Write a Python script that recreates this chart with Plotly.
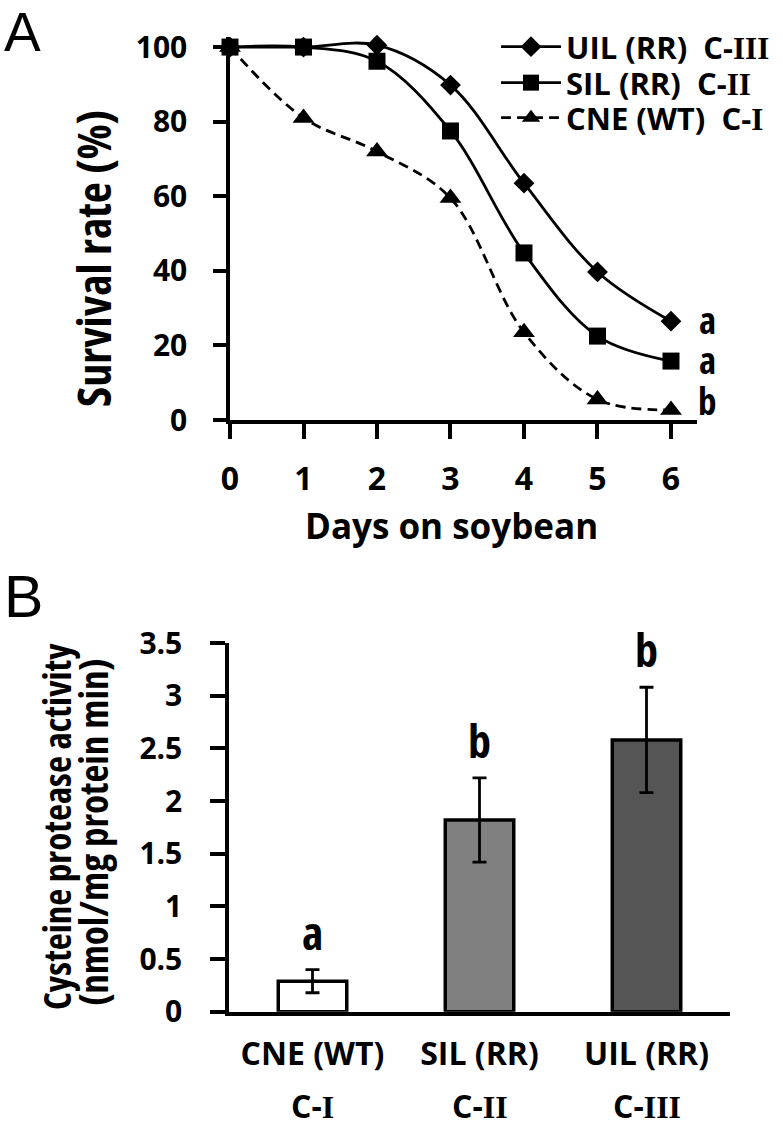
import plotly.graph_objects as go

# ---------------- data ----------------
days = [0, 1, 2, 3, 4, 5, 6]
uil_survival = [100, 100, 100.5, 89.8, 63.5, 39.7, 26.5]
sil_survival = [100, 100, 96.2, 77.5, 44.8, 22.5, 15.8]
cne_survival = [100, 81, 72, 59.5, 23.5, 5.5, 2.7]
survival_names = ["UIL (RR)", "SIL (RR)", "CNE (WT)"]
survival_groups = ["C-III", "C-II", "C-I"]
survival_letters = ["a", "a", "b"]
day_ticks = [0, 1, 2, 3, 4, 5, 6]
survival_ticks = [0, 20, 40, 60, 80, 100]

bar_categories = ["CNE (WT)", "SIL (RR)", "UIL (RR)"]
bar_groups = ["C-I", "C-II", "C-III"]
activity = [0.29, 1.82, 2.58]
activity_err = [0.11, 0.40, 0.50]
bar_letters = ["a", "b", "b"]
activity_ticks = [0, 0.5, 1, 1.5, 2, 2.5, 3, 3.5]
activity_ticktext = ["0", "0.5", "1", "1.5", "2", "2.5", "3", "3.5"]

# ---------------- style ----------------
W, H = 783, 1129
OPEN = "Open Sans, sans-serif"
SERIF = "Liberation Serif"
BLACK = "#000000"


def group_label(g):
    pre, num = g.split("-")
    return f"{pre}-<span style=\"font-family:{SERIF}\">{num}</span>"


def narrow(t):
    return f"<span style=\"font-stretch:75%\">{t}</span>"


def px_x(p):
    return p / W


def px_y(p):
    return 1 - p / H


def bfont(size, family=OPEN):
    return dict(family=family, size=size, color=BLACK, weight="bold")


fig = go.Figure()

series = [uil_survival, sil_survival, cne_survival]
symbols = ["diamond", "square", "triangle-up"]
sizes = [16, 17, 19]
dashes = ["solid", "solid", "10px,6px"]
legend_ids = ["legend", "legend2", "legend3"]
legend_rows = [47, 83, 118]
for name, grp, vals, sym, sz, dsh, lg in zip(survival_names, survival_groups, series,
                                             symbols, sizes, dashes, legend_ids):
    fig.add_trace(go.Scatter(
        x=days, y=vals, mode="lines+markers",
        name=f"{name}  {group_label(grp)}",
        line=dict(color=BLACK, width=2.8, shape="spline", dash=dsh),
        marker=dict(symbol=sym, size=sz, color=BLACK, line=dict(width=0)),
        cliponaxis=False, xaxis="x", yaxis="y", legend=lg,
    ))

fig.add_trace(go.Bar(
    x=bar_categories, y=activity,
    error_y=dict(type="data", array=activity_err, color=BLACK, thickness=2.8, width=7),
    marker=dict(color=["#ffffff", "#808080", "#555555"], line=dict(color=BLACK, width=3.5)),
    width=0.41, showlegend=False, xaxis="x2", yaxis="y2",
))

annotations = []
# letters next to survival curves
label_shift = [2, 2, 9]
for vals, letter, sh in zip(series, survival_letters, label_shift):
    annotations.append(dict(x=days[-1], y=vals[-1], xref="x", yref="y", text=narrow(letter),
                            showarrow=False, xshift=37, yshift=sh, font=bfont(37)))
# letters above bars
for cat, v, e, letter in zip(bar_categories, activity, activity_err, bar_letters):
    annotations.append(dict(x=cat, y=v + e, xref="x2", yref="y2", text=narrow(letter),
                            showarrow=False, yanchor="bottom", yshift=5, font=bfont(46)))
# group labels under bar categories
for cat, g in zip(bar_categories, bar_groups):
    annotations.append(dict(x=cat, y=px_y(1105), xref="x2", yref="paper",
                            text=group_label(g), showarrow=False, yanchor="middle",
                            font=bfont(32)))
# axis titles
annotations += [
    dict(x=px_x(93), y=px_y(259), xref="paper", yref="paper", text=narrow("Survival rate (%)"),
         textangle=-90, showarrow=False, xanchor="center", yanchor="middle", font=bfont(46)),
    dict(x=px_x(451), y=px_y(525), xref="paper", yref="paper", text="Days on soybean",
         showarrow=False, xanchor="center", yanchor="middle", font=bfont(35)),
    dict(x=px_x(56), y=px_y(827), xref="paper", yref="paper",
         text=narrow("Cysteine protease activity"),
         textangle=-90, showarrow=False, xanchor="center", yanchor="middle", font=bfont(37)),
    dict(x=px_x(92), y=px_y(832), xref="paper", yref="paper",
         text=narrow("(nmol/mg protein min)"),
         textangle=-90, showarrow=False, xanchor="center", yanchor="middle", font=bfont(39)),
    dict(x=px_x(2), y=px_y(32), xref="paper", yref="paper", text="A",
         showarrow=False, xanchor="left", yanchor="middle",
         font=dict(family="Liberation Sans, Arial, sans-serif", size=55, color=BLACK)),
    dict(x=px_x(2), y=px_y(597), xref="paper", yref="paper", text="B",
         showarrow=False, xanchor="left", yanchor="middle",
         font=dict(family="Liberation Sans, Arial, sans-serif", size=59, color=BLACK)),
]

axis_common = dict(showgrid=False, zeroline=False, showline=True, linecolor=BLACK,
                   linewidth=3.5, tickcolor=BLACK, tickwidth=3.5, automargin=False)

legend_style = dict(xanchor="left", yanchor="middle", bgcolor="rgba(0,0,0,0)",
                    font=bfont(31), itemsizing="trace", itemwidth=60)
legends = {lg: dict(x=px_x(496), y=px_y(row), **legend_style)
           for lg, row in zip(legend_ids, legend_rows)}

fig.update_layout(
    width=W, height=H, autosize=False,
    margin=dict(l=0, r=0, t=0, b=0, pad=0, autoexpand=False),
    paper_bgcolor="white", plot_bgcolor="white",
    showlegend=True,
    xaxis=dict(domain=[px_x(230), px_x(697)], range=[0, 6.354], anchor="y",
               tickvals=day_ticks, ticks="outside", ticklen=15, ticklabelstandoff=13,
               tickfont=bfont(32), **axis_common),
    yaxis=dict(domain=[px_y(420), px_y(37)], range=[0, 102.7], anchor="x",
               tickvals=survival_ticks, ticks="outside", ticklen=13, ticklabelstandoff=20,
               tickfont=bfont(30), **axis_common),
    xaxis2=dict(domain=[px_x(229), px_x(730)], range=[-0.5, 2.5], anchor="y2",
                type="category", ticks="", ticklen=0, ticklabelstandoff=11,
                tickfont=bfont(32), **axis_common),
    yaxis2=dict(domain=[px_y(1011.7), px_y(643)], range=[0, 3.5], anchor="x2",
                tickvals=activity_ticks, ticktext=activity_ticktext, ticks="outside",
                ticklen=15, ticklabelstandoff=22,
                tickfont=bfont(30), **axis_common),
    annotations=annotations,
    **legends,
)

fig.write_html("out.html", config={"displayModeBar": False},
               post_script="document.body.style.margin='0px';")
